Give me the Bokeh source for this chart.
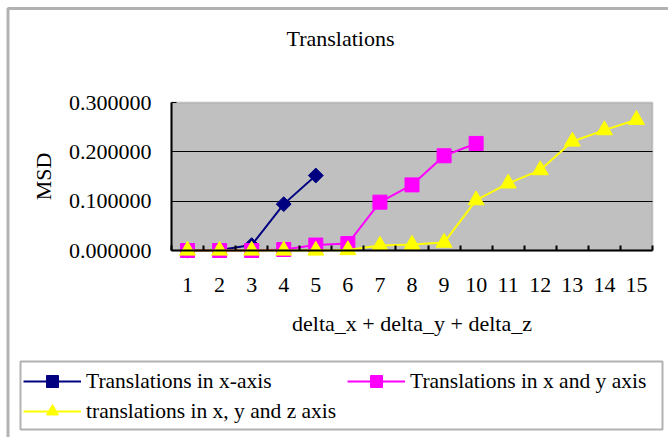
import math
from bokeh.plotting import figure
from bokeh.models import (FixedTicker, PrintfTickFormatter, BoxAnnotation, Label,
                          Legend, LegendItem, Range1d)
from bokeh.embed import file_html
from bokeh.resources import INLINE

# ---------------- data ----------------
categories = list(range(1, 16))
x_only_x = [1, 2, 3, 4, 5]
x_only_y = [0.000, 0.001, 0.011, 0.094, 0.152]
xy_x = list(range(1, 11))
xy_y = [0.000, 0.000, 0.000, 0.002, 0.011, 0.014, 0.098, 0.133, 0.192, 0.217]
xyz_x = list(range(1, 16))
xyz_y = [0.000, 0.000, 0.000, 0.000, 0.000, 0.001, 0.010, 0.012, 0.016,
         0.102, 0.136, 0.163, 0.221, 0.244, 0.265]
y_ticks = [0.0, 0.1, 0.2, 0.3]
grid_ticks = [0.1, 0.2]
series_names = ["Translations in x-axis", "Translations in x and y axis",
                "translations in x, y and z axis"]
title_text = "Translations"
x_label = "delta_x + delta_y + delta_z"
y_label = "MSD"

# ---------------- geometry (canvas pixels) ----------------
W, H = 668, 437
PL, PR, PT, PB = 171, 652, 102, 250        # plot-area edges in canvas pixels
XA, XB = 0.5, 15.5                          # category span
YA, YB = 0.0, 0.3                           # value span
SX = (XB - XA) / (PR - PL)
SY = (YB - YA) / (PB - PT)
X_START, X_END = XA - PL * SX, XB + (W - PR) * SX
Y_START, Y_END = YA - (H - PB) * SY, YB + PT * SY


def cx(px):
    return X_START + px * SX


def cy(py):
    return Y_END - py * SY


FONT = "Liberation Serif"
FS = "22px"
LFS = "21.5px"

p = figure(width=W, height=H, x_range=Range1d(X_START, X_END), y_range=Range1d(Y_START, Y_END),
           output_backend="svg", toolbar_location=None, min_border=0,
           background_fill_color="white", border_fill_color="white",
           outline_line_color=None)

# plot area (grey) with grey top/right border
p.add_layout(BoxAnnotation(left=XA, right=XB, bottom=YA, top=YB,
                           fill_color="#C0C0C0", fill_alpha=1.0,
                           line_color="#808080", line_width=2, level="image"))

# grid
p.xgrid.visible = False
yg = p.ygrid[0]
if "cross_bounds" in yg.properties():
    yg.ticker = FixedTicker(ticks=grid_ticks)
    yg.cross_bounds = (XA, XB)
    yg.grid_line_color = "black"
    yg.grid_line_width = 1
else:
    yg.visible = False
    for g in grid_ticks:
        p.add_layout(BoxAnnotation(left=XA, right=XB, bottom=g, top=g, fill_alpha=0,
                                   line_color="black", line_width=1, level="underlay"))

# x axis
xa = p.xaxis[0]
xa.fixed_location = 0
xa.bounds = (XA, XB)
xa.ticker = FixedTicker(ticks=categories,
                        minor_ticks=[c - 0.5 for c in categories] + [categories[-1] + 0.5])
xa.major_tick_in = 0
xa.major_tick_out = 0
xa.minor_tick_in = 5
xa.minor_tick_out = 0
xa.minor_tick_line_color = "black"
xa.minor_tick_line_width = 2
xa.axis_line_color = "black"
xa.axis_line_width = 2
xa.major_label_text_font = FONT
xa.major_label_text_font_size = FS
xa.major_label_text_color = "black"
xa.major_label_standoff = 27
xa.axis_label = x_label
xa.axis_label_text_font = FONT
xa.axis_label_text_font_size = FS
xa.axis_label_text_font_style = "normal"
xa.axis_label_text_color = "black"
xa.axis_label_standoff = 16

# y axis
ya = p.yaxis[0]
ya.fixed_location = XA
ya.ticker = FixedTicker(ticks=y_ticks)
ya.formatter = PrintfTickFormatter(format="%.6f")
ya.bounds = (YA, YB)
ya.major_tick_in = 5
ya.major_tick_out = 0
ya.minor_tick_in = 0
ya.minor_tick_out = 0
ya.major_tick_line_color = "black"
ya.major_tick_line_width = 1
ya.axis_line_color = "black"
ya.axis_line_width = 2
ya.major_label_text_font = FONT
ya.major_label_text_font_size = FS
ya.major_label_text_color = "black"
ya.major_label_standoff = 20
ya.axis_label = y_label
ya.axis_label_text_font = FONT
ya.axis_label_text_font_size = FS
ya.axis_label_text_font_style = "normal"
ya.axis_label_text_color = "black"
ya.axis_label_standoff = 10

# series
NAVY, MAG, YEL = "#000080", "#FF00FF", "#FFFF00"
l1 = p.line(x_only_x, x_only_y, line_color=NAVY, line_width=2)
m1 = p.scatter(x_only_x, x_only_y, marker="square", angle=math.pi / 4, size=10.5,
               fill_color=NAVY, line_color=NAVY)
l2 = p.line(xy_x, xy_y, line_color=MAG, line_width=2)
m2 = p.scatter(xy_x, xy_y, marker="square", size=14, fill_color=MAG, line_color=MAG)
l3 = p.line(xyz_x, xyz_y, line_color=YEL, line_width=2)
m3 = p.scatter(xyz_x, xyz_y, marker="triangle", size=16, fill_color=YEL, line_color=YEL)

# title
p.add_layout(Label(x=cx(340), y=cy(38), text=title_text, text_align="center",
                   text_baseline="middle", text_font=FONT, text_font_size=FS,
                   text_color="black"))

# outer chart border and legend box
p.add_layout(BoxAnnotation(left=cx(7.5), right=cx(690), top=cy(8), bottom=cy(460),
                           fill_color=None, fill_alpha=0, line_color="black",
                           line_width=3, level="overlay"))
p.add_layout(BoxAnnotation(left=cx(20), right=cx(662), top=cy(361), bottom=cy(429),
                           fill_color=None, fill_alpha=0, line_color="black",
                           line_width=2, level="overlay"))


# legends
def make_legend(items, loc):
    return Legend(items=items, location=loc, orientation="vertical",
                  label_text_font=FONT, label_text_font_size=LFS, label_text_color="black",
                  glyph_width=58, glyph_height=30, label_height=30, label_standoff=5,
                  spacing=0, padding=0, margin=0,
                  background_fill_alpha=0, border_line_alpha=0)


itA = [LegendItem(label=series_names[0], renderers=[l1, m1]),
       LegendItem(label=series_names[2], renderers=[l3, m3])]
itB = [LegendItem(label=series_names[1], renderers=[l2, m2])]
p.add_layout(make_legend(itA, (23, H - 366 - 60)))
p.add_layout(make_legend(itB, (347, H - 366 - 30)))

open("out.html", "w").write(file_html(p, INLINE))
